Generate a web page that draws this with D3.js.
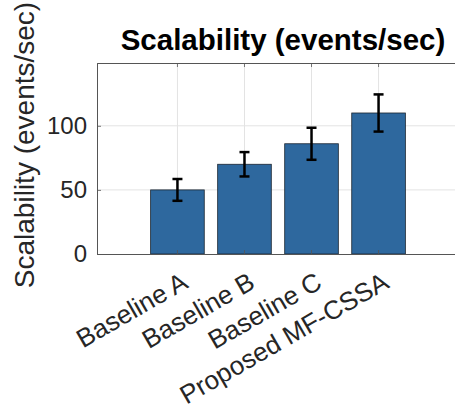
<!DOCTYPE html>
<html><head><meta charset="utf-8">
<script src="https://cdn.jsdelivr.net/npm/d3@7"></script>
<style>html,body{margin:0;padding:0;background:#fff;overflow:hidden}</style>
</head><body>
<svg id="c" width="455" height="407"></svg>
<script>
const categories = ["Baseline A", "Baseline B", "Baseline C", "Proposed MF-CSSA"];
const values = [50, 70, 86, 110];
const errors = [8.5, 9.5, 12.5, 14.5];
const yTicks = [0, 50, 100];
const titleText = "Scalability (events/sec)";
const yLabelText = "Scalability (events/sec)";

const svg = d3.select("#c");
const L = 97, R = 459, T = 63, B = 254;
const font = "Liberation Sans, Arial, Helvetica, sans-serif";

const x = d3.scaleBand().domain(categories).range([L, R]).paddingInner(0.2).paddingOuter(0.8);
const y = d3.scaleLinear().domain([0, 149]).range([B, T]);

// grid
const g = svg.append("g");
g.selectAll("line.vg").data(categories).enter().append("line")
  .attr("x1", d => x(d) + x.bandwidth()/2).attr("x2", d => x(d) + x.bandwidth()/2)
  .attr("y1", T).attr("y2", B).attr("stroke", "#e3e3e3").attr("stroke-width", 1);
g.selectAll("line.hg").data(yTicks.filter(d => d > 0)).enter().append("line")
  .attr("x1", L).attr("x2", R).attr("y1", d => y(d)).attr("y2", d => y(d))
  .attr("stroke", "#e3e3e3").attr("stroke-width", 1);

// bars
svg.selectAll("rect.bar").data(values).enter().append("rect")
  .attr("x", (d, i) => x(categories[i]))
  .attr("width", x.bandwidth())
  .attr("y", d => y(d)).attr("height", d => B - y(d))
  .attr("fill", "#2e689e").attr("stroke", "#1b2530").attr("stroke-width", 0.8);

// axes
const xAxis = d3.axisBottom(x).tickSize(-4).tickFormat("");
const gx = svg.append("g").attr("transform", `translate(0,${B})`).call(xAxis);
const xAxisTop = d3.axisTop(x).tickSize(-4).tickFormat("");
const gxt = svg.append("g").attr("transform", `translate(0,${T})`).call(xAxisTop);
const yAxis = d3.axisLeft(y).tickValues(yTicks).tickSize(-4).tickPadding(10);
const gy = svg.append("g").attr("transform", `translate(${L},0)`).call(yAxis);
[gx, gxt, gy].forEach(a => {
  a.select(".domain").attr("stroke", "#555").attr("stroke-width", 1);
  a.selectAll(".tick line").attr("stroke", "#555").attr("stroke-width", 0.8);
});
gy.selectAll(".tick text").attr("font-family", font).attr("font-size", 24).attr("fill", "#262626");

// error bars
const eb = svg.append("g");
values.forEach((v, i) => {
  const cx = x(categories[i]) + x.bandwidth()/2;
  const cw = 5;
  eb.append("line").attr("x1", cx).attr("x2", cx).attr("y1", y(v + errors[i])).attr("y2", y(v - errors[i]));
  eb.append("line").attr("x1", cx - cw).attr("x2", cx + cw).attr("y1", y(v + errors[i])).attr("y2", y(v + errors[i]));
  eb.append("line").attr("x1", cx - cw).attr("x2", cx + cw).attr("y1", y(v - errors[i])).attr("y2", y(v - errors[i]));
});
eb.selectAll("line").attr("stroke", "#000").attr("stroke-width", 2.5);

// x labels
svg.selectAll("text.xl").data(categories).enter().append("text")
  .attr("transform", d => `translate(${x(d) + x.bandwidth()/2 + 12},287) rotate(-30)`)
  .attr("text-anchor", "end").attr("font-family", font).attr("font-size", 26).attr("fill", "#262626")
  .text(d => d);

// y label
svg.append("text").attr("transform", "translate(34,145) rotate(-90)")
  .attr("text-anchor", "middle").attr("font-family", font).attr("font-size", 28).attr("fill", "#262626")
  .text(yLabelText);

// title
svg.append("text").attr("x", 283).attr("y", 50).attr("text-anchor", "middle")
  .attr("font-family", font).attr("font-size", 29.5).attr("font-weight", "bold").attr("fill", "#000")
  .text(titleText);
</script>
</body></html>
